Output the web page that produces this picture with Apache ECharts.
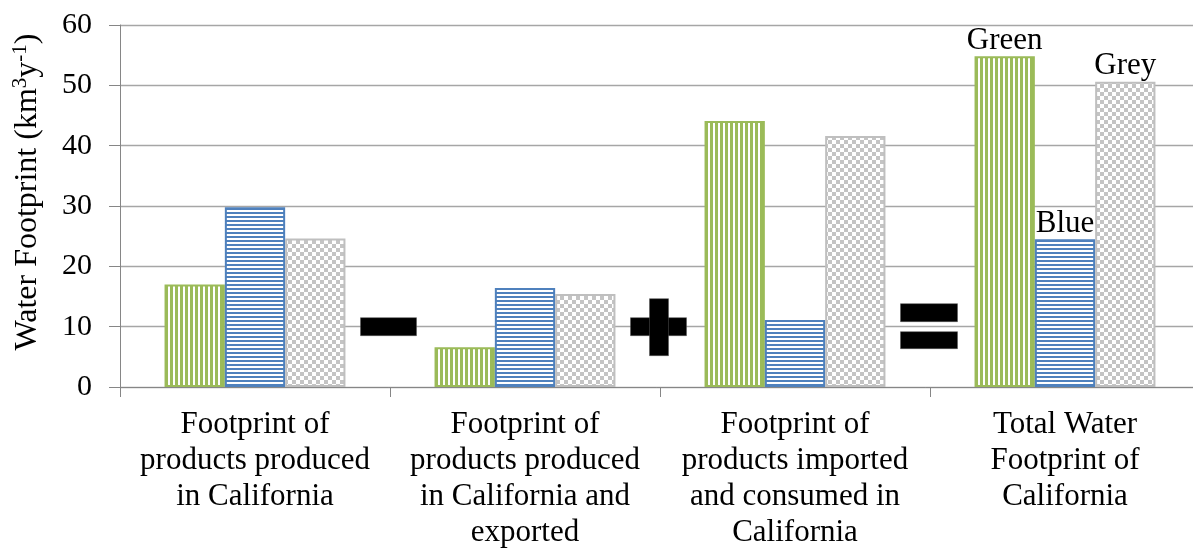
<!DOCTYPE html>
<html><head><meta charset="utf-8">
<script src="https://cdn.jsdelivr.net/npm/echarts@6/dist/echarts.min.js"></script>
<style>html,body{margin:0;padding:0;background:#fff}#c{width:1193px;height:552px}</style>
</head><body><div id="c"></div>
<script>
// ---- data ----
const categories = [
  'Footprint of\nproducts produced\nin California',
  'Footprint of\nproducts produced\nin California and\nexported',
  'Footprint of\nproducts imported\nand consumed in\nCalifornia',
  'Total Water\nFootprint of\nCalifornia'
];
const seriesNames = ['Green', 'Blue', 'Grey'];
const greenValues = [17.0, 6.6, 44.1, 54.8];
const blueValues = [29.8, 16.4, 11.1, 24.5];
const greyValues = [24.6, 15.4, 41.6, 50.6];
const yMin = 0, yMax = 60, yStep = 10;
const yAxisTitle = 'Water Footprint (km{sup|3}y{sup|-1})';
const operatorLevel = 10;          // value at which the operators sit
const operators = ['minus', 'plus', 'equals'];

// ---- patterns ----
function pat(w, h, draw) {
  const c = document.createElement('canvas'); c.width = w; c.height = h;
  const g = c.getContext('2d'); g.fillStyle = '#fff'; g.fillRect(0, 0, w, h); draw(g);
  return { image: c, repeat: 'repeat' };
}
const GREEN = '#9BBB59', BLUE = '#4F81BD', GREY = '#C4C4C4';
const greenPat = pat(5, 5, g => { g.fillStyle = GREEN; g.fillRect(0, 0, 3, 5); });
const bluePat = pat(4, 4, g => { g.fillStyle = BLUE; g.fillRect(0, 0, 4, 2); });
const greyPat = pat(8, 8, g => { g.fillStyle = GREY; g.fillRect(0, 0, 4, 4); g.fillRect(4, 4, 4, 4); });

const FONT = "'Liberation Serif', 'Times New Roman', serif";
const styles = [
  { fill: greenPat, border: GREEN },
  { fill: bluePat, border: BLUE },
  { fill: greyPat, border: '#BFBFBF' }
];
const valueSets = [greenValues, blueValues, greyValues];

const chart = echarts.init(document.getElementById('c'));
chart.setOption({
  animation: false,
  backgroundColor: '#fff',
  grid: { left: 120, width: 1080, top: 25, bottom: 165, containLabel: false, outerBoundsMode: 'none' },
  xAxis: {
    type: 'category', data: categories,
    axisLine: { lineStyle: { color: '#868686', width: 1 } },
    axisTick: { show: true, length: 10, lineStyle: { color: '#868686' } },
    axisLabel: { color: '#000', fontFamily: FONT, fontSize: 31, lineHeight: 36, margin: 20, interval: 0 }
  },
  yAxis: {
    type: 'value', min: yMin, max: yMax, interval: yStep,
    name: yAxisTitle, nameLocation: 'middle', nameGap: 74, nameRotate: 90,
    nameTextStyle: { color: '#000', fontFamily: FONT, fontSize: 32, padding: [0, 0, 0, 28],
      rich: { sup: { fontSize: 21, fontFamily: FONT, color: '#000', padding: [0, 0, 15, 0] } } },
    axisLine: { show: true, lineStyle: { color: '#868686' } },
    axisTick: { show: true, length: 11, lineStyle: { color: '#868686' } },
    axisLabel: { color: '#000', fontFamily: FONT, fontSize: 30, margin: 28 },
    splitLine: { lineStyle: { color: '#A6A6A6', width: 1.3 } }
  },
  series: seriesNames.map((name, k) => ({
    name, type: 'bar', barGap: '0%', barCategoryGap: '33%',
    itemStyle: { color: styles[k].fill, borderColor: styles[k].border, borderWidth: 2 },
    label: { show: false, position: 'top', distance: 0, formatter: '{a}', color: '#000', fontFamily: FONT, fontSize: 31 },
    data: valueSets[k].map((v, i) => i === categories.length - 1 ? { value: v, label: { show: true } } : v)
  }))
});

// operators drawn between categories
function drawOps() {
  const y = chart.convertToPixel({ yAxisIndex: 0 }, operatorLevel);
  const els = [];
  operators.forEach((op, i) => {
    const x = (chart.convertToPixel({ xAxisIndex: 0 }, i) + chart.convertToPixel({ xAxisIndex: 0 }, i + 1)) / 2 - 1.5;
    const st = { fill: '#000', stroke: '#555', lineWidth: 0.5 };
    if (op === 'minus' || op === 'plus') {
      els.push({ type: 'rect', shape: { x: x - 28, y: y - 9, width: 56, height: 18 }, style: st, z: 10 });
    }
    if (op === 'plus') {
      els.push({ type: 'rect', shape: { x: x - 9, y: y - 28, width: 19, height: 57 }, style: st, z: 10 });
    }
    if (op === 'equals') {
      els.push({ type: 'rect', shape: { x: x - 28, y: y - 23, width: 57, height: 18 }, style: st, z: 10 });
      els.push({ type: 'rect', shape: { x: x - 28, y: y + 5, width: 57, height: 17 }, style: st, z: 10 });
    }
  });
  chart.setOption({ graphic: els });
}
drawOps();
</script>
</body></html>
